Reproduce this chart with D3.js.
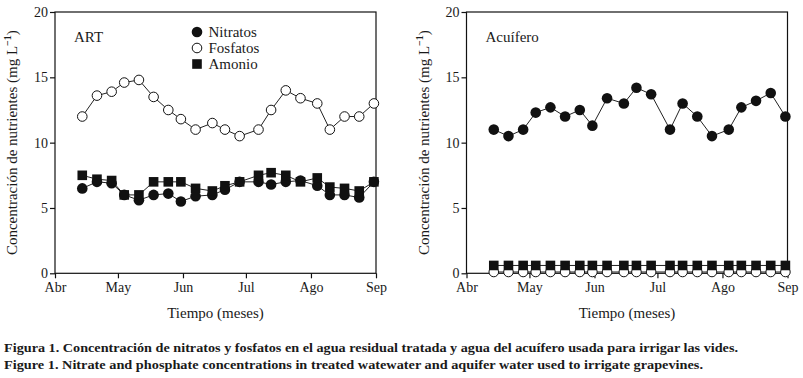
<!DOCTYPE html>
<html>
<head>
<meta charset="utf-8">
<script src="https://cdn.jsdelivr.net/npm/d3@7"></script>
<style>
  body { margin: 0; background: #fff; }
  text { font-family: "Liberation Serif", "DejaVu Serif", serif; fill: #1a1a1a; }
</style>
</head>
<body>
<div id="chart"></div>
<script>
// sampling dates (roughly weekly, Apr - Aug)
var fechas = ["2009-04-14","2009-04-21","2009-04-28","2009-05-04","2009-05-11","2009-05-18","2009-05-25",
              "2009-05-31","2009-06-07","2009-06-15","2009-06-21","2009-06-28","2009-07-07","2009-07-13",
              "2009-07-20","2009-07-27","2009-08-04","2009-08-10","2009-08-17","2009-08-24","2009-08-31"];
var meses = ["Abr", "May", "Jun", "Jul", "Ago", "Sep"];
var yTicks = [0, 5, 10, 15, 20];

// ART (treated wastewater)
var artNitratos = [6.5, 7.0, 6.9, 6.0, 5.6, 6.0, 6.1, 5.5, 5.9, 6.0, 6.4, 7.0, 7.0, 6.8, 7.0, 7.1, 6.7, 6.0, 6.0, 5.8, 7.0];
var artFosfatos = [12.0, 13.6, 13.9, 14.6, 14.8, 13.5, 12.5, 11.8, 11.0, 11.5, 11.0, 10.5, 11.0, 12.5, 14.0, 13.4, 13.0, 11.0, 12.0, 12.0, 13.0];
var artAmonio   = [7.5, 7.2, 7.1, 6.0, 6.0, 7.0, 7.0, 7.0, 6.5, 6.3, 6.7, 7.0, 7.5, 7.7, 7.5, 7.0, 7.3, 6.6, 6.5, 6.3, 7.0];

// Acuifero (aquifer water)
var acuNitratos = [11.0, 10.5, 11.0, 12.3, 12.7, 12.0, 12.5, 11.3, 13.4, 13.0, 14.2, 13.7, 11.0, 13.0, 12.0, 10.5, 11.0, 12.7, 13.2, 13.8, 12.0];
var acuFosfatos = [0.1, 0.1, 0.1, 0.1, 0.1, 0.1, 0.1, 0.1, 0.1, 0.1, 0.1, 0.1, 0.1, 0.1, 0.1, 0.1, 0.1, 0.1, 0.1, 0.1, 0.1];
var acuAmonio   = [0.6, 0.6, 0.6, 0.6, 0.6, 0.6, 0.6, 0.6, 0.6, 0.6, 0.6, 0.6, 0.6, 0.6, 0.6, 0.6, 0.6, 0.6, 0.6, 0.6, 0.6];

var width = 803, height = 378;
var parse = d3.timeParse("%Y-%m-%d");
var dates = fechas.map(parse);

var svg = d3.select("#chart").append("svg")
    .attr("width", width)
    .attr("height", height);
svg.append("rect").attr("width", width).attr("height", height).attr("fill", "#fff");

function panel(left, label, nit, fos, amo, showLegend) {
  var w = 321, top = 12, h = 261.3;
  var x = d3.scaleTime()
      .domain([parse("2009-04-01"), parse("2009-09-01")])
      .range([left, left + w]);
  var y = d3.scaleLinear().domain([0, 20]).range([top + h, top]);

  var g = svg.append("g");

  // frame
  g.append("rect")
    .attr("x", left).attr("y", top).attr("width", w).attr("height", h)
    .attr("fill", "none").attr("stroke", "#111").attr("stroke-width", 1.2);

  var yAxis = g.append("g")
    .attr("transform", "translate(" + left + ",0)")
    .call(d3.axisLeft(y).tickValues(yTicks).tickSize(5).tickPadding(2));
  var xAxis = g.append("g")
    .attr("transform", "translate(0," + (top + h) + ")")
    .call(d3.axisBottom(x).ticks(d3.timeMonth.every(1)).tickSize(5).tickPadding(4)
      .tickFormat(function(d) { return meses[d.getMonth() - 3]; }));
  [yAxis, xAxis].forEach(function(a) {
    a.select(".domain").remove();
    a.selectAll("line").attr("stroke", "#111").attr("stroke-width", 1.2);
    a.selectAll("text").style("font-family", "Liberation Serif, serif").style("font-size", "14px").attr("fill", "#1a1a1a");
  });

  // axis titles
  var yt = g.append("text")
    .attr("transform", "translate(" + (left - 38) + "," + (top + h / 2) + ") rotate(-90)")
    .attr("text-anchor", "middle")
    .style("font-size", "15px");
  yt.append("tspan").text("Concentración de nutrientes (mg L");
  yt.append("tspan").attr("dy", -6).style("font-size", "10px").style("font-weight", "bold").text("−1");
  yt.append("tspan").attr("dy", 6).text(")");

  g.append("text")
    .attr("x", left + w / 2).attr("y", 318)
    .attr("text-anchor", "middle")
    .style("font-size", "15px")
    .text("Tiempo (meses)");

  g.append("text")
    .attr("x", left + 19).attr("y", 42)
    .style("font-size", "15px")
    .text(label);

  var line = d3.line()
    .x(function(d, i) { return x(dates[i]); })
    .y(function(d) { return y(d); });

  [nit, fos, amo].forEach(function(s) {
    g.append("path").datum(s)
      .attr("d", line)
      .attr("fill", "none").attr("stroke", "#222").attr("stroke-width", 1);
  });

  g.selectAll("circle.fos").data(fos).enter().append("circle")
    .attr("class", "fos")
    .attr("cx", function(d, i) { return x(dates[i]); })
    .attr("cy", function(d) { return y(d); })
    .attr("r", 4.8)
    .attr("fill", "#fff").attr("stroke", "#111").attr("stroke-width", 1);

  g.selectAll("circle.nit").data(nit).enter().append("circle")
    .attr("class", "nit")
    .attr("cx", function(d, i) { return x(dates[i]); })
    .attr("cy", function(d) { return y(d); })
    .attr("r", 5.3)
    .attr("fill", "#111");

  g.selectAll("rect.amo").data(amo).enter().append("rect")
    .attr("class", "amo")
    .attr("x", function(d, i) { return x(dates[i]) - 4.8; })
    .attr("y", function(d) { return y(d) - 4.8; })
    .attr("width", 9.6).attr("height", 9.6)
    .attr("fill", "#111");

  if (showLegend) {
    var lg = g.append("g").attr("transform", "translate(" + (left + 142) + ",32)");
    lg.append("circle").attr("cx", 0).attr("cy", 0).attr("r", 5.3).attr("fill", "#111");
    lg.append("circle").attr("cx", 0).attr("cy", 16).attr("r", 4.8).attr("fill", "#fff").attr("stroke", "#111");
    lg.append("rect").attr("x", -4.8).attr("y", 27.2).attr("width", 9.6).attr("height", 9.6).attr("fill", "#111");
    ["Nitratos", "Fosfatos", "Amonio"].forEach(function(t, i) {
      lg.append("text").attr("x", 11.5).attr("y", i * 16).attr("dy", "0.35em")
        .style("font-size", "15px").text(t);
    });
  }
}

panel(55, "ART", artNitratos, artFosfatos, artAmonio, true);
panel(466.5, "Acuífero", acuNitratos, acuFosfatos, acuAmonio, false);

// caption
svg.append("text")
  .attr("x", 4).attr("y", 352)
  .style("font-size", "13px").style("font-weight", "bold")
  .attr("textLength", 734).attr("lengthAdjust", "spacingAndGlyphs")
  .text("Figura 1. Concentración de nitratos y fosfatos en el agua residual tratada y agua del acuífero usada para irrigar las vides.");
svg.append("text")
  .attr("x", 4).attr("y", 369)
  .style("font-size", "13px").style("font-weight", "bold")
  .attr("textLength", 699).attr("lengthAdjust", "spacingAndGlyphs")
  .text("Figure 1. Nitrate and phosphate concentrations in treated watewater and aquifer water used to irrigate grapevines.");
</script>
</body>
</html>
